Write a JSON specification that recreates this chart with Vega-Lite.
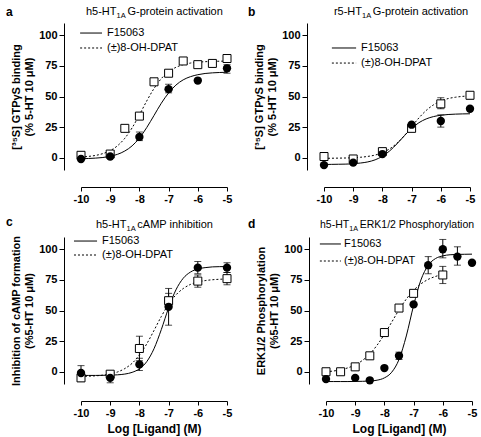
{
"$schema":"https://vega.github.io/schema/vega-lite/v6.json",
"background":"white",
"padding":5,
"config":{"view":{"stroke":null},"font":"Liberation Sans",
"axis":{"domainColor":"black","domainWidth":1,"tickColor":"black","tickWidth":1,"tickSize":4,"labelColor":"black","labelFont":"Liberation Sans","labelFontSize":11,"labelFontWeight":"bold","labelFlush":false,"labelOverlap":false,"labelPadding":2,"titleColor":"black","titleFont":"Liberation Sans","titleFontSize":11,"titleFontWeight":"bold","grid":false,"titlePadding":4},
"axisX":{"titleFontSize":12,"titlePadding":5}},
"datasets":{
"pts":[
{"p":"a","d":"F","x":-10,"y":-1},{"p":"a","d":"F","x":-9,"y":1},{"p":"a","d":"F","x":-8,"y":17,"lo":14,"hi":21},{"p":"a","d":"F","x":-7,"y":56,"lo":53,"hi":60},{"p":"a","d":"F","x":-6,"y":63},{"p":"a","d":"F","x":-5,"y":73,"lo":69,"hi":76},
{"p":"a","d":"D","x":-10,"y":2},{"p":"a","d":"D","x":-9,"y":3},{"p":"a","d":"D","x":-8.5,"y":24},{"p":"a","d":"D","x":-8,"y":34},{"p":"a","d":"D","x":-7.5,"y":62},{"p":"a","d":"D","x":-7,"y":69},{"p":"a","d":"D","x":-6.5,"y":79},{"p":"a","d":"D","x":-6,"y":76},{"p":"a","d":"D","x":-5.5,"y":77},{"p":"a","d":"D","x":-5,"y":81},
{"p":"b","d":"F","x":-10,"y":-6},{"p":"b","d":"F","x":-9,"y":-4},{"p":"b","d":"F","x":-8,"y":3},{"p":"b","d":"F","x":-7,"y":27},{"p":"b","d":"F","x":-6,"y":30,"lo":25,"hi":35},{"p":"b","d":"F","x":-5,"y":40},
{"p":"b","d":"D","x":-10,"y":1},{"p":"b","d":"D","x":-9,"y":-1},{"p":"b","d":"D","x":-8,"y":5},{"p":"b","d":"D","x":-7,"y":24},{"p":"b","d":"D","x":-6,"y":44,"lo":40,"hi":49},{"p":"b","d":"D","x":-5,"y":51,"lo":48,"hi":53},
{"p":"c","d":"F","x":-10,"y":-1,"lo":-6,"hi":5},{"p":"c","d":"F","x":-9,"y":-5,"lo":-9,"hi":-1},{"p":"c","d":"F","x":-8,"y":6,"lo":1,"hi":11},{"p":"c","d":"F","x":-7,"y":53,"lo":38,"hi":68},{"p":"c","d":"F","x":-6,"y":85,"lo":80,"hi":90},{"p":"c","d":"F","x":-5,"y":85,"lo":81,"hi":89},
{"p":"c","d":"D","x":-10,"y":-5,"lo":-8,"hi":-2},{"p":"c","d":"D","x":-9,"y":-2},{"p":"c","d":"D","x":-8,"y":19,"lo":9,"hi":29},{"p":"c","d":"D","x":-7,"y":58,"lo":52,"hi":64},{"p":"c","d":"D","x":-6,"y":74,"lo":69,"hi":79},{"p":"c","d":"D","x":-5,"y":76,"lo":71,"hi":81},
{"p":"d","d":"F","x":-10,"y":-6},{"p":"d","d":"F","x":-9,"y":-5},{"p":"d","d":"F","x":-8.5,"y":-7},{"p":"d","d":"F","x":-8,"y":3},{"p":"d","d":"F","x":-7.5,"y":13,"lo":10,"hi":16},{"p":"d","d":"F","x":-7,"y":55},{"p":"d","d":"F","x":-6.5,"y":87,"lo":80,"hi":94},{"p":"d","d":"F","x":-6,"y":100,"lo":93,"hi":108},{"p":"d","d":"F","x":-5.5,"y":94,"lo":87,"hi":102},{"p":"d","d":"F","x":-5,"y":89},
{"p":"d","d":"D","x":-10,"y":0},{"p":"d","d":"D","x":-9.5,"y":0},{"p":"d","d":"D","x":-9,"y":4},{"p":"d","d":"D","x":-8.5,"y":13},{"p":"d","d":"D","x":-8,"y":32,"lo":29,"hi":35},{"p":"d","d":"D","x":-7.5,"y":52},{"p":"d","d":"D","x":-7,"y":64},{"p":"d","d":"D","x":-6,"y":79,"lo":72,"hi":86}
],
"curves":[
{"p":"a","d":"F","x":-10,"y":-0.8},{"p":"a","d":"F","x":-9.75,"y":-0.6},{"p":"a","d":"F","x":-9.5,"y":-0.3},{"p":"a","d":"F","x":-9.25,"y":0.2},{"p":"a","d":"F","x":-9,"y":1.2},{"p":"a","d":"F","x":-8.75,"y":2.8},{"p":"a","d":"F","x":-8.5,"y":5.5},{"p":"a","d":"F","x":-8.25,"y":9.7},{"p":"a","d":"F","x":-8,"y":16.1},{"p":"a","d":"F","x":-7.75,"y":24.6},{"p":"a","d":"F","x":-7.5,"y":34.5},{"p":"a","d":"F","x":-7.25,"y":44.5},{"p":"a","d":"F","x":-7,"y":52.9},{"p":"a","d":"F","x":-6.75,"y":59.3},{"p":"a","d":"F","x":-6.5,"y":63.6},{"p":"a","d":"F","x":-6.25,"y":66.2},{"p":"a","d":"F","x":-6,"y":67.8},{"p":"a","d":"F","x":-5.75,"y":68.8},{"p":"a","d":"F","x":-5.5,"y":69.3},{"p":"a","d":"F","x":-5.25,"y":69.6},{"p":"a","d":"F","x":-5,"y":69.8},
{"p":"a","d":"D","x":-10,"y":0.6},{"p":"a","d":"D","x":-9.75,"y":1.1},{"p":"a","d":"D","x":-9.5,"y":1.9},{"p":"a","d":"D","x":-9.25,"y":3.4},{"p":"a","d":"D","x":-9,"y":5.8},{"p":"a","d":"D","x":-8.75,"y":9.8},{"p":"a","d":"D","x":-8.5,"y":15.9},{"p":"a","d":"D","x":-8.25,"y":24.4},{"p":"a","d":"D","x":-8,"y":35.0},{"p":"a","d":"D","x":-7.75,"y":46.3},{"p":"a","d":"D","x":-7.5,"y":56.5},{"p":"a","d":"D","x":-7.25,"y":64.6},{"p":"a","d":"D","x":-7,"y":70.2},{"p":"a","d":"D","x":-6.75,"y":73.8},{"p":"a","d":"D","x":-6.5,"y":76.0},{"p":"a","d":"D","x":-6.25,"y":77.3},{"p":"a","d":"D","x":-6,"y":78.0},{"p":"a","d":"D","x":-5.75,"y":78.4},{"p":"a","d":"D","x":-5.5,"y":78.7},{"p":"a","d":"D","x":-5.25,"y":78.8},{"p":"a","d":"D","x":-5,"y":78.9},
{"p":"b","d":"F","x":-10,"y":-5.5},{"p":"b","d":"F","x":-9.75,"y":-5.4},{"p":"b","d":"F","x":-9.5,"y":-5.3},{"p":"b","d":"F","x":-9.25,"y":-5.2},{"p":"b","d":"F","x":-9,"y":-4.9},{"p":"b","d":"F","x":-8.75,"y":-4.3},{"p":"b","d":"F","x":-8.5,"y":-3.4},{"p":"b","d":"F","x":-8.25,"y":-1.7},{"p":"b","d":"F","x":-8,"y":1.2},{"p":"b","d":"F","x":-7.75,"y":5.6},{"p":"b","d":"F","x":-7.5,"y":11.4},{"p":"b","d":"F","x":-7.25,"y":17.9},{"p":"b","d":"F","x":-7,"y":23.9},{"p":"b","d":"F","x":-6.75,"y":28.6},{"p":"b","d":"F","x":-6.5,"y":31.7},{"p":"b","d":"F","x":-6.25,"y":33.6},{"p":"b","d":"F","x":-6,"y":34.7},{"p":"b","d":"F","x":-5.75,"y":35.3},{"p":"b","d":"F","x":-5.5,"y":35.6},{"p":"b","d":"F","x":-5.25,"y":35.8},{"p":"b","d":"F","x":-5,"y":35.9},
{"p":"b","d":"D","x":-10,"y":-0.5},{"p":"b","d":"D","x":-9.75,"y":-0.4},{"p":"b","d":"D","x":-9.5,"y":-0.3},{"p":"b","d":"D","x":-9.25,"y":-0.2},{"p":"b","d":"D","x":-9,"y":0.0},{"p":"b","d":"D","x":-8.75,"y":0.4},{"p":"b","d":"D","x":-8.5,"y":1.1},{"p":"b","d":"D","x":-8.25,"y":2.2},{"p":"b","d":"D","x":-8,"y":4.2},{"p":"b","d":"D","x":-7.75,"y":7.3},{"p":"b","d":"D","x":-7.5,"y":11.9},{"p":"b","d":"D","x":-7.25,"y":18.0},{"p":"b","d":"D","x":-7,"y":25.3},{"p":"b","d":"D","x":-6.75,"y":32.5},{"p":"b","d":"D","x":-6.5,"y":38.6},{"p":"b","d":"D","x":-6.25,"y":43.2},{"p":"b","d":"D","x":-6,"y":46.3},{"p":"b","d":"D","x":-5.75,"y":48.3},{"p":"b","d":"D","x":-5.5,"y":49.4},{"p":"b","d":"D","x":-5.25,"y":50.1},{"p":"b","d":"D","x":-5,"y":50.5},
{"p":"c","d":"F","x":-10,"y":-3.0},{"p":"c","d":"F","x":-9.75,"y":-3.0},{"p":"c","d":"F","x":-9.5,"y":-3.0},{"p":"c","d":"F","x":-9.25,"y":-2.9},{"p":"c","d":"F","x":-9,"y":-2.8},{"p":"c","d":"F","x":-8.75,"y":-2.5},{"p":"c","d":"F","x":-8.5,"y":-1.9},{"p":"c","d":"F","x":-8.25,"y":-0.5},{"p":"c","d":"F","x":-8,"y":2.4},{"p":"c","d":"F","x":-7.75,"y":8.2},{"p":"c","d":"F","x":-7.5,"y":18.8},{"p":"c","d":"F","x":-7.25,"y":34.4},{"p":"c","d":"F","x":-7,"y":52.1},{"p":"c","d":"F","x":-6.75,"y":66.8},{"p":"c","d":"F","x":-6.5,"y":76.3},{"p":"c","d":"F","x":-6.25,"y":81.4},{"p":"c","d":"F","x":-6,"y":83.9},{"p":"c","d":"F","x":-5.75,"y":85.0},{"p":"c","d":"F","x":-5.5,"y":85.6},{"p":"c","d":"F","x":-5.25,"y":85.8},{"p":"c","d":"F","x":-5,"y":85.9},
{"p":"c","d":"D","x":-10,"y":-3.8},{"p":"c","d":"D","x":-9.75,"y":-3.6},{"p":"c","d":"D","x":-9.5,"y":-3.3},{"p":"c","d":"D","x":-9.25,"y":-2.8},{"p":"c","d":"D","x":-9,"y":-1.8},{"p":"c","d":"D","x":-8.75,"y":-0.2},{"p":"c","d":"D","x":-8.5,"y":2.6},{"p":"c","d":"D","x":-8.25,"y":6.9},{"p":"c","d":"D","x":-8,"y":13.6},{"p":"c","d":"D","x":-7.75,"y":22.7},{"p":"c","d":"D","x":-7.5,"y":33.7},{"p":"c","d":"D","x":-7.25,"y":45.1},{"p":"c","d":"D","x":-7,"y":55.1},{"p":"c","d":"D","x":-6.75,"y":62.7},{"p":"c","d":"D","x":-6.5,"y":67.9},{"p":"c","d":"D","x":-6.25,"y":71.3},{"p":"c","d":"D","x":-6,"y":73.3},{"p":"c","d":"D","x":-5.75,"y":74.4},{"p":"c","d":"D","x":-5.5,"y":75.1},{"p":"c","d":"D","x":-5.25,"y":75.5},{"p":"c","d":"D","x":-5,"y":75.7},
{"p":"d","d":"F","x":-10,"y":-8.0},{"p":"d","d":"F","x":-9.75,"y":-8.0},{"p":"d","d":"F","x":-9.5,"y":-8.0},{"p":"d","d":"F","x":-9.25,"y":-8.0},{"p":"d","d":"F","x":-9,"y":-7.9},{"p":"d","d":"F","x":-8.75,"y":-7.8},{"p":"d","d":"F","x":-8.5,"y":-7.6},{"p":"d","d":"F","x":-8.25,"y":-6.9},{"p":"d","d":"F","x":-8,"y":-5.0},{"p":"d","d":"F","x":-7.75,"y":-0.4},{"p":"d","d":"F","x":-7.5,"y":10.0},{"p":"d","d":"F","x":-7.25,"y":29.2},{"p":"d","d":"F","x":-7,"y":54.1},{"p":"d","d":"F","x":-6.75,"y":74.9},{"p":"d","d":"F","x":-6.5,"y":86.9},{"p":"d","d":"F","x":-6.25,"y":92.4},{"p":"d","d":"F","x":-6,"y":94.6},{"p":"d","d":"F","x":-5.75,"y":95.5},{"p":"d","d":"F","x":-5.5,"y":95.8},{"p":"d","d":"F","x":-5.25,"y":95.9},{"p":"d","d":"F","x":-5,"y":96.0},
{"p":"d","d":"D","x":-10,"y":0.0},{"p":"d","d":"D","x":-9.75,"y":0.6},{"p":"d","d":"D","x":-9.5,"y":1.6},{"p":"d","d":"D","x":-9.25,"y":3.2},{"p":"d","d":"D","x":-9,"y":5.6},{"p":"d","d":"D","x":-8.75,"y":9.3},{"p":"d","d":"D","x":-8.5,"y":14.5},{"p":"d","d":"D","x":-8.25,"y":21.7},{"p":"d","d":"D","x":-8,"y":30.6},{"p":"d","d":"D","x":-7.75,"y":40.5},{"p":"d","d":"D","x":-7.5,"y":50.5},{"p":"d","d":"D","x":-7.25,"y":59.3},{"p":"d","d":"D","x":-7,"y":66.5},{"p":"d","d":"D","x":-6.75,"y":71.7},{"p":"d","d":"D","x":-6.5,"y":75.4},{"p":"d","d":"D","x":-6.25,"y":77.8},{"p":"d","d":"D","x":-6,"y":79.4}
]},
"spacing":12,
"vconcat":[
{"hconcat":[
{"width":146,"height":147,"resolve":{"axis":{"x":"independent","y":"independent"}},"layer":[
{"data":{"name":"curves"},"transform":[{"filter":"datum.p=='a' && datum.d=='F'"}],"mark":{"type":"line","color":"black","strokeWidth":1,"interpolate":"monotone"},"encoding":{"x":{"field":"x","type":"quantitative","scale":{"domain":[-10,-5],"nice":false,"zero":false},"axis":{"title":null,"values":[-10,-9,-8,-7,-6,-5],"offset":17,"labelExpr":"datum.value + ''"}},"y":{"field":"y","type":"quantitative","scale":{"domain":[-10,110],"nice":false,"zero":false},"axis":{"title":["[³⁵S] GTPγS binding","(% 5-HT 10 μM)"],"values":[0,25,50,75,100],"offset":17,"tickSize":5}}}},
{"data":{"name":"curves"},"transform":[{"filter":"datum.p=='a' && datum.d=='D'"}],"mark":{"type":"line","color":"black","strokeWidth":1,"strokeDash":[2,2],"interpolate":"monotone"},"encoding":{"x":{"field":"x","type":"quantitative","axis":null},"y":{"field":"y","type":"quantitative","axis":null}}},
{"data":{"name":"pts"},"transform":[{"filter":"datum.p=='a' && isValid(datum.lo)"}],"mark":{"type":"rule","color":"black","strokeWidth":1},"encoding":{"x":{"field":"x","type":"quantitative","axis":null},"y":{"field":"lo","type":"quantitative","axis":null},"y2":{"field":"hi"}}},
{"data":{"name":"pts"},"transform":[{"filter":"datum.p=='a' && isValid(datum.lo)"},{"fold":["lo","hi"],"as":["k","v"]}],"mark":{"type":"tick","orient":"horizontal","size":7,"thickness":1,"color":"black"},"encoding":{"x":{"field":"x","type":"quantitative","axis":null},"y":{"field":"v","type":"quantitative","axis":null}}},
{"data":{"name":"pts"},"transform":[{"filter":"datum.p=='a' && datum.d=='D'"}],"mark":{"type":"point","shape":"square","size":64,"filled":true,"fill":"white","stroke":"black","strokeWidth":1,"opacity":1},"encoding":{"x":{"field":"x","type":"quantitative","axis":null},"y":{"field":"y","type":"quantitative","axis":null}}},
{"data":{"name":"pts"},"transform":[{"filter":"datum.p=='a' && datum.d=='F'"}],"mark":{"type":"point","shape":"circle","size":70,"filled":true,"color":"black","opacity":1},"encoding":{"x":{"field":"x","type":"quantitative","axis":null},"y":{"field":"y","type":"quantitative","axis":null}}},
{"data":{"values":[{}]},"mark":{"type":"text","text":"a","fontSize":12,"fontWeight":"bold","align":"left","baseline":"middle","color":"black"},"encoding":{"x":{"datum":-12.57,"axis":null},"y":{"datum":119,"axis":null}}},
{"data":{"values":[{}]},"mark":{"type":"text","text":"h5-HT","fontSize":11,"align":"left","baseline":"middle","color":"black"},"encoding":{"x":{"datum":-9.83,"axis":null},"y":{"datum":119,"axis":null}}},
{"data":{"values":[{}]},"mark":{"type":"text","text":"1A","fontSize":7.5,"align":"left","baseline":"middle","color":"black"},"encoding":{"x":{"datum":-8.78,"axis":null},"y":{"datum":116.1,"axis":null}}},
{"data":{"values":[{}]},"mark":{"type":"text","text":"G-protein activation","fontSize":11,"align":"left","baseline":"middle","color":"black"},"encoding":{"x":{"datum":-8.41,"axis":null},"y":{"datum":119,"axis":null}}},
{"data":{"values":[{}]},"mark":{"type":"rule","color":"black","strokeWidth":1},"encoding":{"x":{"datum":-10.03,"axis":null},"x2":{"datum":-9.28},"y":{"datum":101.8,"axis":null}}},
{"data":{"values":[{}]},"mark":{"type":"rule","color":"black","strokeWidth":1,"strokeDash":[2,2]},"encoding":{"x":{"datum":-10.03,"axis":null},"x2":{"datum":-9.28},"y":{"datum":89.6,"axis":null}}},
{"data":{"values":[{}]},"mark":{"type":"text","text":"F15063","fontSize":11,"align":"left","baseline":"middle","color":"black"},"encoding":{"x":{"datum":-9.11,"axis":null},"y":{"datum":101.8,"axis":null}}},
{"data":{"values":[{}]},"mark":{"type":"text","text":"(±)8-OH-DPAT","fontSize":11,"align":"left","baseline":"middle","color":"black"},"encoding":{"x":{"datum":-9.11,"axis":null},"y":{"datum":89.6,"axis":null}}}
]},
{"width":146,"height":147,"resolve":{"axis":{"x":"independent","y":"independent"}},"layer":[
{"data":{"name":"curves"},"transform":[{"filter":"datum.p=='b' && datum.d=='F'"}],"mark":{"type":"line","color":"black","strokeWidth":1,"interpolate":"monotone"},"encoding":{"x":{"field":"x","type":"quantitative","scale":{"domain":[-10,-5],"nice":false,"zero":false},"axis":{"title":null,"values":[-10,-9,-8,-7,-6,-5],"offset":17,"labelExpr":"datum.value + ''"}},"y":{"field":"y","type":"quantitative","scale":{"domain":[-10,110],"nice":false,"zero":false},"axis":{"title":["[³⁵S] GTPγS binding","(% 5-HT 10 μM)"],"values":[0,25,50,75,100],"offset":17,"tickSize":5}}}},
{"data":{"name":"curves"},"transform":[{"filter":"datum.p=='b' && datum.d=='D'"}],"mark":{"type":"line","color":"black","strokeWidth":1,"strokeDash":[2,2],"interpolate":"monotone"},"encoding":{"x":{"field":"x","type":"quantitative","axis":null},"y":{"field":"y","type":"quantitative","axis":null}}},
{"data":{"name":"pts"},"transform":[{"filter":"datum.p=='b' && isValid(datum.lo)"}],"mark":{"type":"rule","color":"black","strokeWidth":1},"encoding":{"x":{"field":"x","type":"quantitative","axis":null},"y":{"field":"lo","type":"quantitative","axis":null},"y2":{"field":"hi"}}},
{"data":{"name":"pts"},"transform":[{"filter":"datum.p=='b' && isValid(datum.lo)"},{"fold":["lo","hi"],"as":["k","v"]}],"mark":{"type":"tick","orient":"horizontal","size":7,"thickness":1,"color":"black"},"encoding":{"x":{"field":"x","type":"quantitative","axis":null},"y":{"field":"v","type":"quantitative","axis":null}}},
{"data":{"name":"pts"},"transform":[{"filter":"datum.p=='b' && datum.d=='D'"}],"mark":{"type":"point","shape":"square","size":64,"filled":true,"fill":"white","stroke":"black","strokeWidth":1,"opacity":1},"encoding":{"x":{"field":"x","type":"quantitative","axis":null},"y":{"field":"y","type":"quantitative","axis":null}}},
{"data":{"name":"pts"},"transform":[{"filter":"datum.p=='b' && datum.d=='F'"}],"mark":{"type":"point","shape":"circle","size":70,"filled":true,"color":"black","opacity":1},"encoding":{"x":{"field":"x","type":"quantitative","axis":null},"y":{"field":"y","type":"quantitative","axis":null}}},
{"data":{"values":[{}]},"mark":{"type":"text","text":"b","fontSize":12,"fontWeight":"bold","align":"left","baseline":"middle","color":"black"},"encoding":{"x":{"datum":-12.6,"axis":null},"y":{"datum":119,"axis":null}}},
{"data":{"values":[{}]},"mark":{"type":"text","text":"r5-HT","fontSize":11,"align":"left","baseline":"middle","color":"black"},"encoding":{"x":{"datum":-9.66,"axis":null},"y":{"datum":119,"axis":null}}},
{"data":{"values":[{}]},"mark":{"type":"text","text":"1A","fontSize":7.5,"align":"left","baseline":"middle","color":"black"},"encoding":{"x":{"datum":-8.70,"axis":null},"y":{"datum":116.1,"axis":null}}},
{"data":{"values":[{}]},"mark":{"type":"text","text":"G-protein activation","fontSize":11,"align":"left","baseline":"middle","color":"black"},"encoding":{"x":{"datum":-8.33,"axis":null},"y":{"datum":119,"axis":null}}},
{"data":{"values":[{}]},"mark":{"type":"rule","color":"black","strokeWidth":1},"encoding":{"x":{"datum":-9.73,"axis":null},"x2":{"datum":-8.9},"y":{"datum":89.6,"axis":null}}},
{"data":{"values":[{}]},"mark":{"type":"rule","color":"black","strokeWidth":1,"strokeDash":[2,2]},"encoding":{"x":{"datum":-9.73,"axis":null},"x2":{"datum":-8.9},"y":{"datum":77.3,"axis":null}}},
{"data":{"values":[{}]},"mark":{"type":"text","text":"F15063","fontSize":11,"align":"left","baseline":"middle","color":"black"},"encoding":{"x":{"datum":-8.73,"axis":null},"y":{"datum":89.6,"axis":null}}},
{"data":{"values":[{}]},"mark":{"type":"text","text":"(±)8-OH-DPAT","fontSize":11,"align":"left","baseline":"middle","color":"black"},"encoding":{"x":{"datum":-8.73,"axis":null},"y":{"datum":77.3,"axis":null}}}
]}
],"spacing":15},
{"hconcat":[
{"width":146,"height":147,"resolve":{"axis":{"x":"independent","y":"independent"}},"layer":[
{"data":{"name":"curves"},"transform":[{"filter":"datum.p=='c' && datum.d=='F'"}],"mark":{"type":"line","color":"black","strokeWidth":1,"interpolate":"monotone"},"encoding":{"x":{"field":"x","type":"quantitative","scale":{"domain":[-10,-5],"nice":false,"zero":false},"axis":{"title":"Log [Ligand] (M)","values":[-10,-9,-8,-7,-6,-5],"offset":17,"labelExpr":"datum.value + ''"}},"y":{"field":"y","type":"quantitative","scale":{"domain":[-10,110],"nice":false,"zero":false},"axis":{"title":["Inhibition of cAMP formation","(%5-HT 10 μM)"],"values":[0,25,50,75,100],"offset":17,"tickSize":5}}}},
{"data":{"name":"curves"},"transform":[{"filter":"datum.p=='c' && datum.d=='D'"}],"mark":{"type":"line","color":"black","strokeWidth":1,"strokeDash":[2,2],"interpolate":"monotone"},"encoding":{"x":{"field":"x","type":"quantitative","axis":null},"y":{"field":"y","type":"quantitative","axis":null}}},
{"data":{"name":"pts"},"transform":[{"filter":"datum.p=='c' && isValid(datum.lo)"}],"mark":{"type":"rule","color":"black","strokeWidth":1},"encoding":{"x":{"field":"x","type":"quantitative","axis":null},"y":{"field":"lo","type":"quantitative","axis":null},"y2":{"field":"hi"}}},
{"data":{"name":"pts"},"transform":[{"filter":"datum.p=='c' && isValid(datum.lo)"},{"fold":["lo","hi"],"as":["k","v"]}],"mark":{"type":"tick","orient":"horizontal","size":7,"thickness":1,"color":"black"},"encoding":{"x":{"field":"x","type":"quantitative","axis":null},"y":{"field":"v","type":"quantitative","axis":null}}},
{"data":{"name":"pts"},"transform":[{"filter":"datum.p=='c' && datum.d=='D'"}],"mark":{"type":"point","shape":"square","size":64,"filled":true,"fill":"white","stroke":"black","strokeWidth":1,"opacity":1},"encoding":{"x":{"field":"x","type":"quantitative","axis":null},"y":{"field":"y","type":"quantitative","axis":null}}},
{"data":{"name":"pts"},"transform":[{"filter":"datum.p=='c' && datum.d=='F'"}],"mark":{"type":"point","shape":"circle","size":70,"filled":true,"color":"black","opacity":1},"encoding":{"x":{"field":"x","type":"quantitative","axis":null},"y":{"field":"y","type":"quantitative","axis":null}}},
{"data":{"values":[{}]},"mark":{"type":"text","text":"c","fontSize":12,"fontWeight":"bold","align":"left","baseline":"middle","color":"black"},"encoding":{"x":{"datum":-12.57,"axis":null},"y":{"datum":122.2,"axis":null}}},
{"data":{"values":[{}]},"mark":{"type":"text","text":"h5-HT","fontSize":11,"align":"left","baseline":"middle","color":"black"},"encoding":{"x":{"datum":-9.49,"axis":null},"y":{"datum":119.8,"axis":null}}},
{"data":{"values":[{}]},"mark":{"type":"text","text":"1A","fontSize":7.5,"align":"left","baseline":"middle","color":"black"},"encoding":{"x":{"datum":-8.44,"axis":null},"y":{"datum":116.9,"axis":null}}},
{"data":{"values":[{}]},"mark":{"type":"text","text":"cAMP inhibition","fontSize":11,"align":"left","baseline":"middle","color":"black"},"encoding":{"x":{"datum":-8.07,"axis":null},"y":{"datum":119.8,"axis":null}}},
{"data":{"values":[{}]},"mark":{"type":"rule","color":"black","strokeWidth":1},"encoding":{"x":{"datum":-10.24,"axis":null},"x2":{"datum":-9.45},"y":{"datum":106.7,"axis":null}}},
{"data":{"values":[{}]},"mark":{"type":"rule","color":"black","strokeWidth":1,"strokeDash":[2,2]},"encoding":{"x":{"datum":-10.24,"axis":null},"x2":{"datum":-9.45},"y":{"datum":95.3,"axis":null}}},
{"data":{"values":[{}]},"mark":{"type":"text","text":"F15063","fontSize":11,"align":"left","baseline":"middle","color":"black"},"encoding":{"x":{"datum":-9.28,"axis":null},"y":{"datum":106.7,"axis":null}}},
{"data":{"values":[{}]},"mark":{"type":"text","text":"(±)8-OH-DPAT","fontSize":11,"align":"left","baseline":"middle","color":"black"},"encoding":{"x":{"datum":-9.28,"axis":null},"y":{"datum":95.3,"axis":null}}}
]},
{"width":146,"height":147,"resolve":{"axis":{"x":"independent","y":"independent"}},"layer":[
{"data":{"name":"curves"},"transform":[{"filter":"datum.p=='d' && datum.d=='F'"}],"mark":{"type":"line","color":"black","strokeWidth":1,"interpolate":"monotone"},"encoding":{"x":{"field":"x","type":"quantitative","scale":{"domain":[-10,-5],"nice":false,"zero":false},"axis":{"title":"Log [Ligand] (M)","values":[-10,-9,-8,-7,-6,-5],"offset":17,"labelExpr":"datum.value + ''"}},"y":{"field":"y","type":"quantitative","scale":{"domain":[-10,110],"nice":false,"zero":false},"axis":{"title":["ERK1/2 Phosphorylation","(%5-HT 10 μM)"],"values":[0,25,50,75,100],"offset":17,"tickSize":5}}}},
{"data":{"name":"curves"},"transform":[{"filter":"datum.p=='d' && datum.d=='D'"}],"mark":{"type":"line","color":"black","strokeWidth":1,"strokeDash":[2,2],"interpolate":"monotone"},"encoding":{"x":{"field":"x","type":"quantitative","axis":null},"y":{"field":"y","type":"quantitative","axis":null}}},
{"data":{"name":"pts"},"transform":[{"filter":"datum.p=='d' && isValid(datum.lo)"}],"mark":{"type":"rule","color":"black","strokeWidth":1},"encoding":{"x":{"field":"x","type":"quantitative","axis":null},"y":{"field":"lo","type":"quantitative","axis":null},"y2":{"field":"hi"}}},
{"data":{"name":"pts"},"transform":[{"filter":"datum.p=='d' && isValid(datum.lo)"},{"fold":["lo","hi"],"as":["k","v"]}],"mark":{"type":"tick","orient":"horizontal","size":7,"thickness":1,"color":"black"},"encoding":{"x":{"field":"x","type":"quantitative","axis":null},"y":{"field":"v","type":"quantitative","axis":null}}},
{"data":{"name":"pts"},"transform":[{"filter":"datum.p=='d' && datum.d=='D'"}],"mark":{"type":"point","shape":"square","size":64,"filled":true,"fill":"white","stroke":"black","strokeWidth":1,"opacity":1},"encoding":{"x":{"field":"x","type":"quantitative","axis":null},"y":{"field":"y","type":"quantitative","axis":null}}},
{"data":{"name":"pts"},"transform":[{"filter":"datum.p=='d' && datum.d=='F'"}],"mark":{"type":"point","shape":"circle","size":70,"filled":true,"color":"black","opacity":1},"encoding":{"x":{"field":"x","type":"quantitative","axis":null},"y":{"field":"y","type":"quantitative","axis":null}}},
{"data":{"values":[{}]},"mark":{"type":"text","text":"d","fontSize":12,"fontWeight":"bold","align":"left","baseline":"middle","color":"black"},"encoding":{"x":{"datum":-12.67,"axis":null},"y":{"datum":120.6,"axis":null}}},
{"data":{"values":[{}]},"mark":{"type":"text","text":"h5-HT","fontSize":10.5,"align":"left","baseline":"middle","color":"black"},"encoding":{"x":{"datum":-10.205,"axis":null},"y":{"datum":119.8,"axis":null}}},
{"data":{"values":[{}]},"mark":{"type":"text","text":"1A","fontSize":7.2,"align":"left","baseline":"middle","color":"black"},"encoding":{"x":{"datum":-9.205,"axis":null},"y":{"datum":116.9,"axis":null}}},
{"data":{"values":[{}]},"mark":{"type":"text","text":"ERK1/2 Phosphorylation","fontSize":10.5,"align":"left","baseline":"middle","color":"black"},"encoding":{"x":{"datum":-8.846,"axis":null},"y":{"datum":119.8,"axis":null}}},
{"data":{"values":[{}]},"mark":{"type":"rule","color":"black","strokeWidth":1},"encoding":{"x":{"datum":-10.21,"axis":null},"x2":{"datum":-9.49},"y":{"datum":104.3,"axis":null}}},
{"data":{"values":[{}]},"mark":{"type":"rule","color":"black","strokeWidth":1,"strokeDash":[2,2]},"encoding":{"x":{"datum":-10.21,"axis":null},"x2":{"datum":-9.49},"y":{"datum":90.4,"axis":null}}},
{"data":{"values":[{}]},"mark":{"type":"text","text":"F15063","fontSize":11,"align":"left","baseline":"middle","color":"black"},"encoding":{"x":{"datum":-9.38,"axis":null},"y":{"datum":104.3,"axis":null}}},
{"data":{"values":[{}]},"mark":{"type":"text","text":"(±)8-OH-DPAT","fontSize":11,"align":"left","baseline":"middle","color":"black"},"encoding":{"x":{"datum":-9.38,"axis":null},"y":{"datum":90.4,"axis":null}}}
]}
],"spacing":15}
]
}
